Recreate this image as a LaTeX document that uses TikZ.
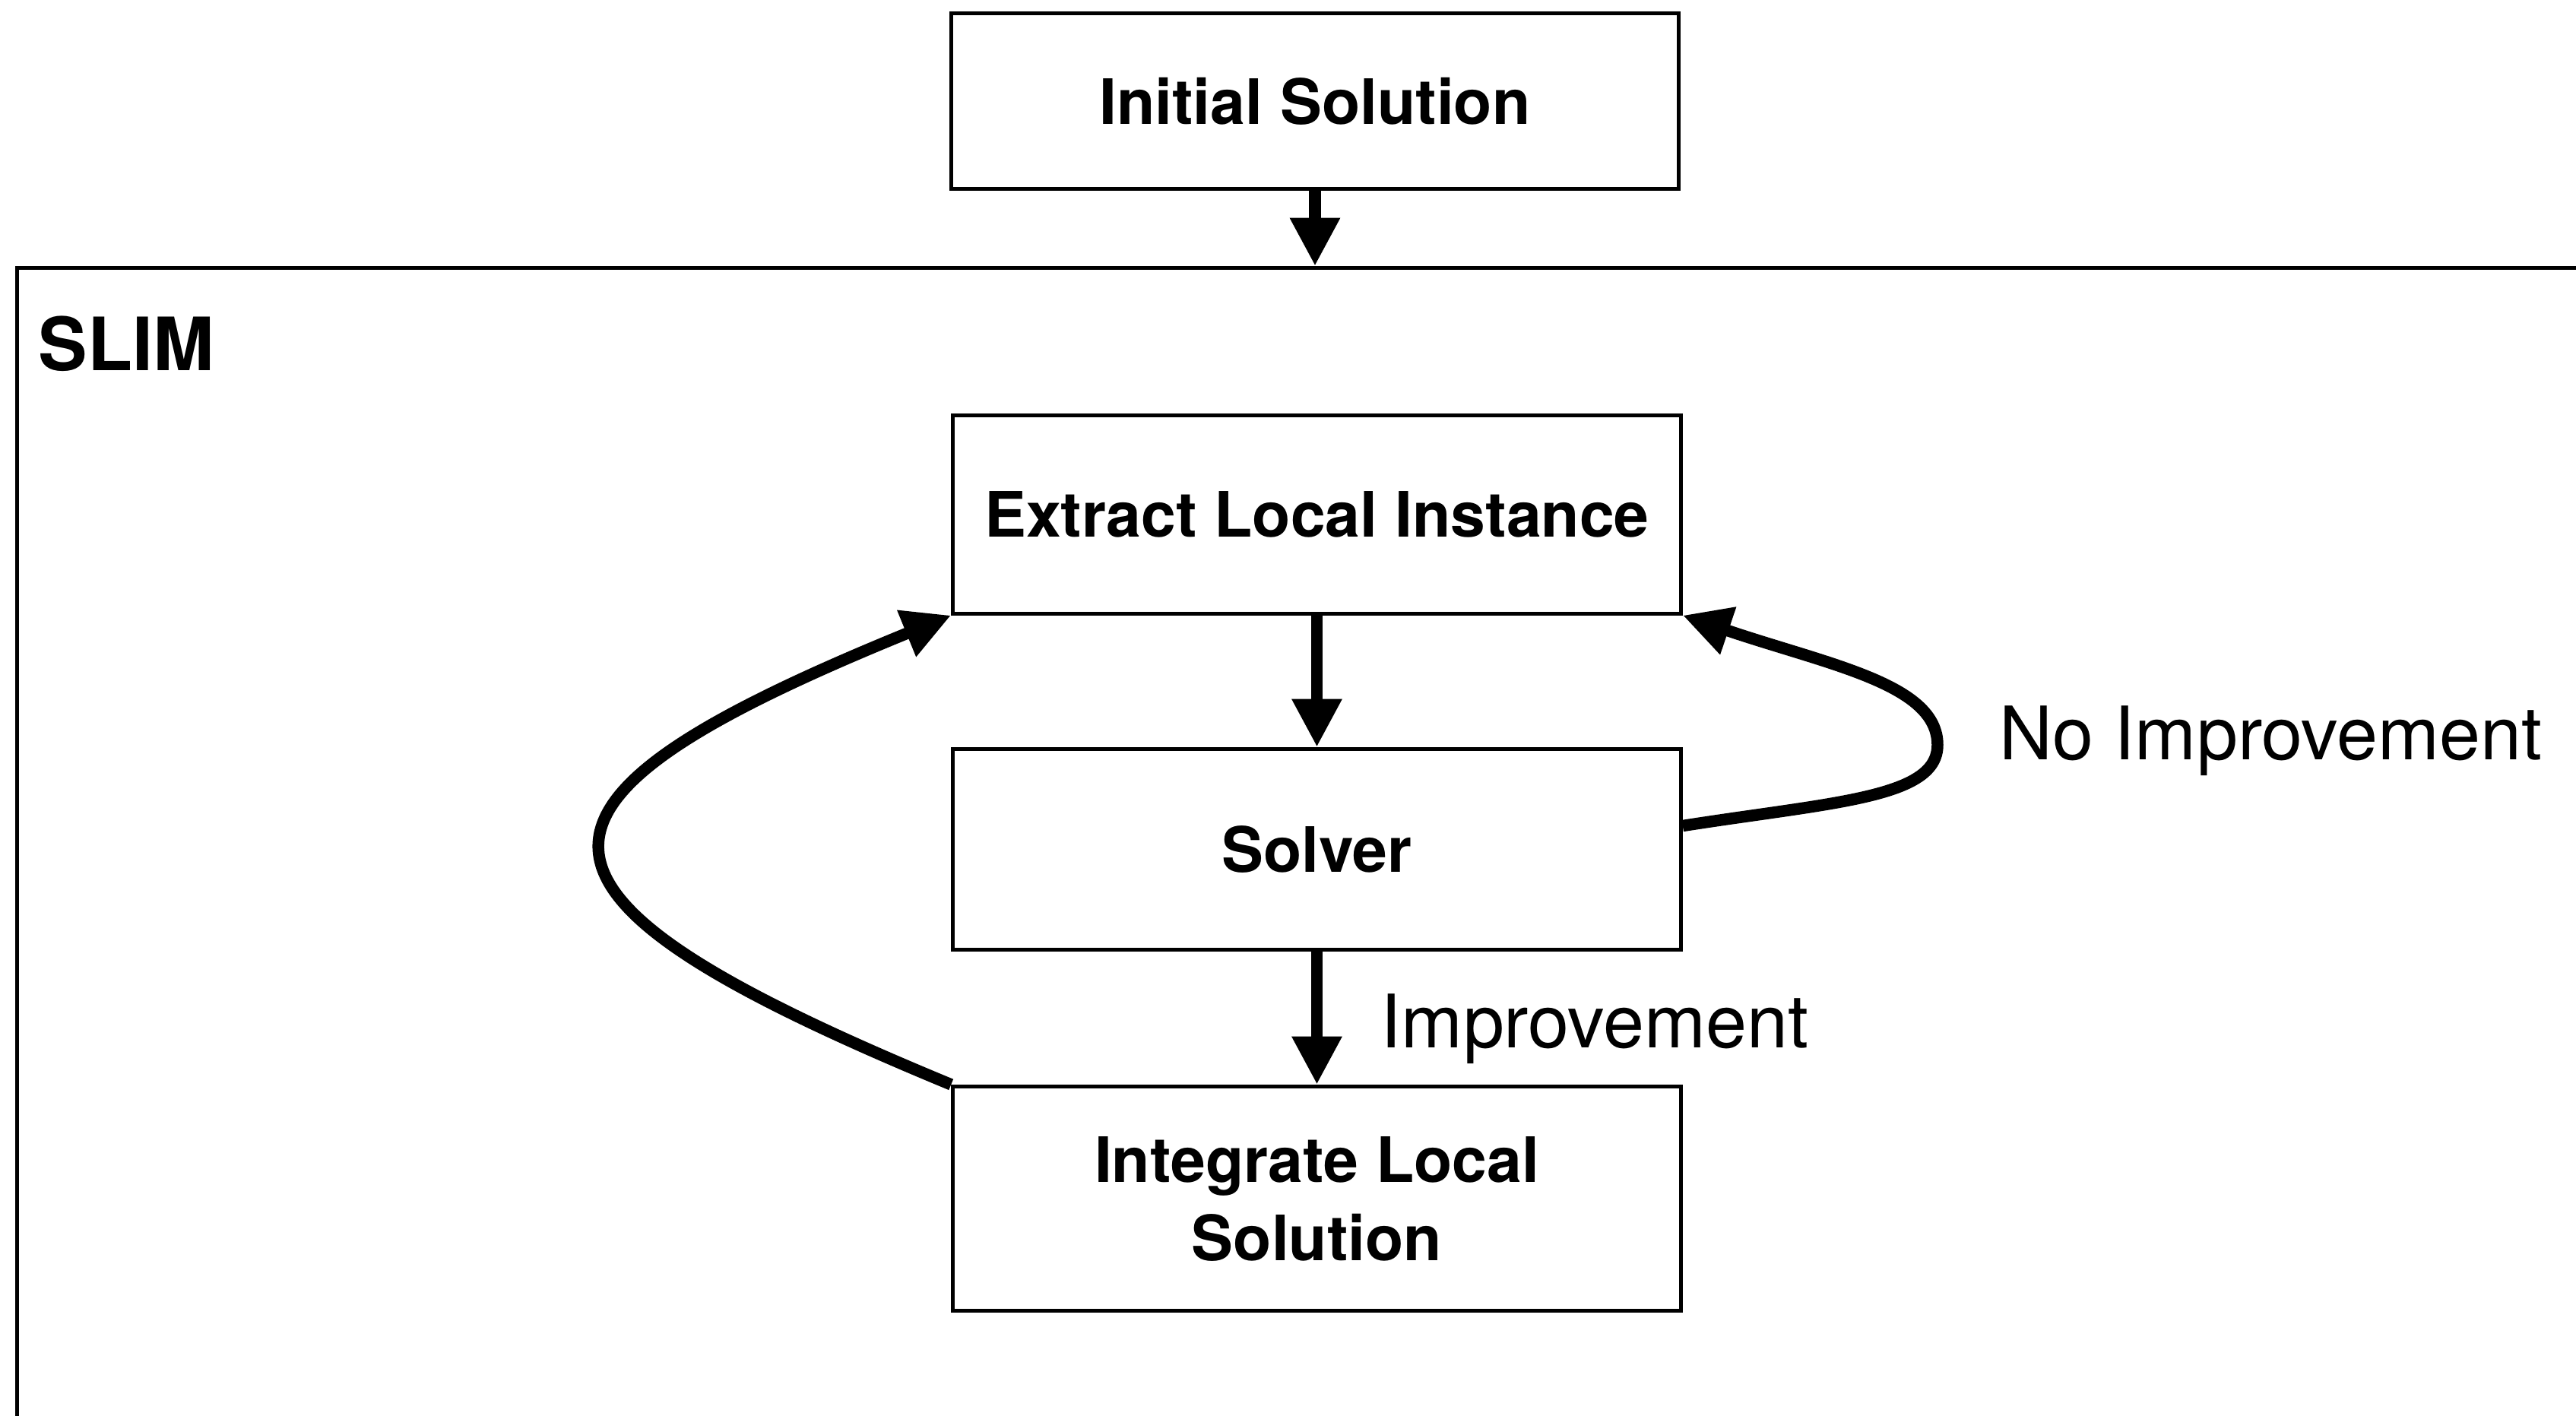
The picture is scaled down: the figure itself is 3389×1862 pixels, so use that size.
\documentclass[tikz,border=0pt]{standalone}
\usepackage{fontspec}
\setmainfont{TeX Gyre Heros}
\usetikzlibrary{arrows.meta,calc}
\begin{document}
\begin{tikzpicture}[x=0.01cm,y=-0.01cm,
  box/.style={draw,line width=1.42pt,minimum width=9.57cm,inner sep=0pt,
    font=\fontsize{23.4pt}{29.3pt}\selectfont\bfseries},
  lbl/.style={inner sep=0pt,anchor=base west,font=\fontsize{27.6pt}{33pt}\selectfont},
  flow/.style={line width=4.4pt,-{Triangle[length=18pt,width=17.6pt]}}
]
\useasboundingbox (0,0) rectangle (3389,1862);
\clip (0,0) rectangle (3389,1862);
\draw[line width=1.42pt] (22.5,352.5) rectangle (3450,1950);
\node[lbl,font=\fontsize{27.5pt}{33pt}\selectfont\bfseries] (slim) at (50,487) {SLIM};
\node[box,minimum height=2.31cm] (init) at (1730,133) {Initial Solution};
\node[box,minimum height=2.60cm] (ext) at (1732.5,677) {Extract Local Instance};
\node[box,minimum height=2.64cm] (sol) at (1732.5,1117.5) {Solver};
\node[box,minimum height=2.95cm,align=center] (int) at (1732.5,1577) {Integrate Local\\Solution};
\node[lbl] (noimp) at (2630,999) {No Improvement};
\node[lbl] (imp) at (1816,1378) {Improvement};
\coordinate (ytop) at (0,350);
\coordinate (slimtop) at (init.south |- ytop);
\coordinate (rmid) at (2549,980);
\coordinate (rs) at ($(sol.east)+(0,-31)$);
\draw[flow] (init.south) -- (slimtop);
\draw[flow] (ext.south) -- (sol.north);
\draw[flow] (sol.south) -- (int.north);
\draw[flow] (int.north west) .. controls (642,1175) and (642,1058) .. (ext.south west);
\draw[flow] (rs) .. controls (2414,1055) and (2549,1050) .. (rmid)
  .. controls (2549,900) and (2407,875) .. (ext.south east);
\end{tikzpicture}
\end{document}
